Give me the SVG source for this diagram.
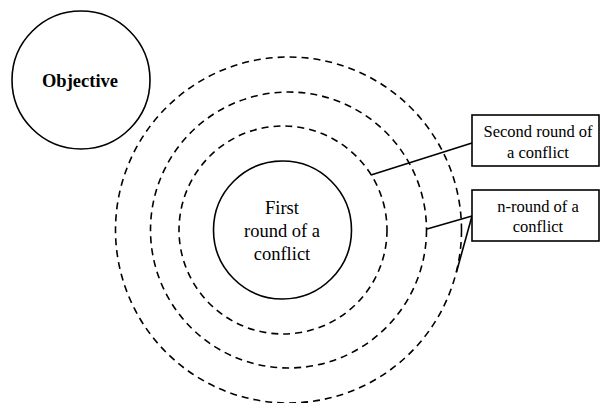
<svg xmlns="http://www.w3.org/2000/svg" width="601" height="403" viewBox="0 0 601 403">
<style>
.solid{fill:#fff;stroke:#000;stroke-width:1.6}
.dash{fill:none;stroke:#000;stroke-width:1.6;stroke-dasharray:7 5}
.box{fill:#fff;stroke:#000;stroke-width:1.6}
.conn{stroke:#000;stroke-width:1.6;fill:none}
text{font-family:"Liberation Serif","Times New Roman",serif;fill:#000;text-anchor:middle}
</style>
<rect width="601" height="403" fill="#fff"/>
<g id="rings">
<circle class="dash" cx="288.5" cy="230" r="173"/>
<circle class="dash" cx="288.5" cy="230" r="138"/>
<circle class="dash" cx="283" cy="230" r="104"/>
</g>
<g id="objective">
<circle class="solid" cx="81" cy="80" r="69"/>
<text x="80" y="87" font-size="18.5" font-weight="bold">Objective</text>
</g>
<g id="first-round">
<circle class="solid" cx="282.5" cy="230" r="69"/>
<text x="282" y="214" font-size="18.5">First</text>
<text x="282" y="237" font-size="18.5">round of a</text>
<text x="282" y="260" font-size="18.5">conflict</text>
</g>
<g id="connectors">
<line class="conn" x1="371" y1="175" x2="472" y2="143"/>
<line class="conn" x1="427" y1="229" x2="472" y2="216"/>
<line class="conn" x1="472" y1="216" x2="456.5" y2="272"/>
</g>
<g id="second-round">
<rect class="box" x="472" y="115" width="127" height="51"/>
<text x="538" y="137" font-size="16.5">Second round of</text>
<text x="538" y="158" font-size="16.5">a conflict</text>
</g>
<g id="n-round">
<rect class="box" x="472" y="190" width="127" height="51"/>
<text x="538" y="212" font-size="16.5">n-round of a</text>
<text x="538" y="232" font-size="16.5">conflict</text>
</g>
</svg>
